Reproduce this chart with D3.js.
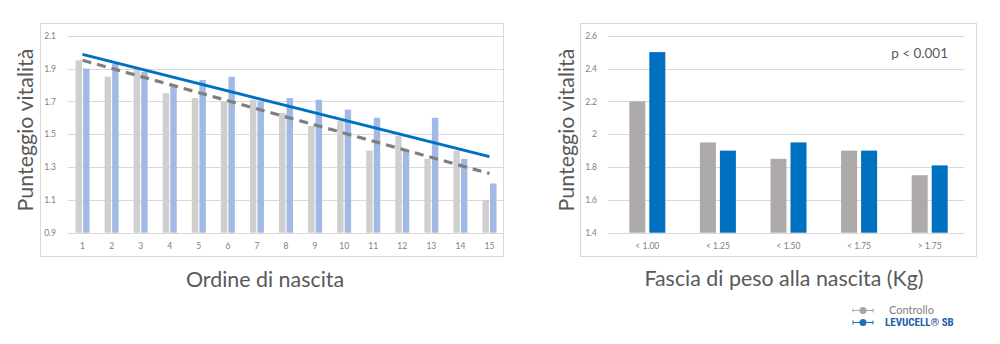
<!DOCTYPE html>
<html><head><meta charset="utf-8">
<script src="https://cdn.jsdelivr.net/npm/d3@7/dist/d3.min.js"></script>
<style>
html,body{margin:0;padding:0;background:#fff;}
svg{display:block;}
</style></head>
<body>
<svg id="chart" width="1000" height="344"></svg>
<script>
// ---- Data: left chart (birth order) ----
const orderCategories = ["1","2","3","4","5","6","7","8","9","10","11","12","13","14","15"];
const orderControl = [1.95,1.85,1.90,1.75,1.72,1.70,1.71,1.63,1.55,1.58,1.40,1.49,1.35,1.40,1.10];
const orderLevucell = [1.90,1.93,1.88,1.80,1.83,1.85,1.70,1.72,1.71,1.65,1.60,1.40,1.60,1.35,1.20];
const orderTicks = [0.9,1.1,1.3,1.5,1.7,1.9,2.1];

// ---- Data: right chart (birth weight) ----
const weightCategories = ["< 1.00","< 1.25","< 1.50","< 1.75","> 1.75"];
const weightControl = [2.20,1.95,1.85,1.90,1.75];
const weightLevucell = [2.50,1.90,1.95,1.90,1.81];
const weightTicks = [1.4,1.6,1.8,2,2.2,2.4,2.6];

const seriesNames = ["Controllo","LEVUCELL® SB"];

const svg = d3.select("#chart");
const FONT = "Lato, 'Open Sans', sans-serif";

// linear regression (trendline) from data
function linreg(ys){
  const xs = ys.map((_,i)=>i+1);
  const mx = d3.mean(xs), my = d3.mean(ys);
  let sxy=0, sxx=0;
  xs.forEach((x,i)=>{sxy+=(x-mx)*(ys[i]-my); sxx+=(x-mx)*(x-mx);});
  const b = sxy/sxx, a = my - b*mx;
  return x => a + b*x;
}

function panel(cfg){
  const g = svg.append("g");
  g.append("rect").attr("x",cfg.frame[0]).attr("y",cfg.frame[1])
    .attr("width",cfg.frame[2]).attr("height",cfg.frame[3])
    .attr("fill","none").attr("stroke","#d9d9d9").attr("stroke-width",1);

  const x0 = d3.scaleBand().domain(cfg.cats).range(cfg.xr).padding(0);
  const x1 = d3.scaleBand().domain(seriesNames).range(cfg.sub).paddingInner(cfg.subPad);
  const y = d3.scaleLinear().domain(cfg.yd).range(cfg.yr);

  g.append("g").selectAll("line").data(cfg.ticks).join("line")
    .attr("x1",cfg.gridX[0]).attr("x2",cfg.gridX[1])
    .attr("y1",d=>Math.round(y(d))+0.5).attr("y2",d=>Math.round(y(d))+0.5)
    .attr("stroke","#d9d9d9").attr("stroke-width",1);

  const ya = d3.axisLeft(y).tickValues(cfg.ticks).tickSize(0).tickPadding(0)
    .tickFormat(cfg.tickFmt);
  const yg = g.append("g").attr("transform",`translate(${cfg.yLabelX},0)`).call(ya);
  yg.select(".domain").remove();
  yg.selectAll("text").attr("fill","#808080").attr("font-size",cfg.tickSize)
    .attr("font-family",FONT);

  const xa = d3.axisBottom(x0).tickSize(0).tickPadding(0);
  const xg = g.append("g").attr("transform",`translate(0,${cfg.xLabelY})`).call(xa);
  xg.select(".domain").remove();
  xg.selectAll("text").attr("fill","#808080").attr("font-size",cfg.tickSize)
    .attr("font-family",FONT);

  const rows = cfg.cats.map((c,i)=>({c, vals:[cfg.a[i], cfg.b[i]]}));
  const grp = g.append("g").selectAll("g").data(rows).join("g")
    .attr("transform",d=>`translate(${x0(d.c)+x0.bandwidth()/2},0)`);
  grp.selectAll("rect").data(d=>d.vals.map((v,k)=>({k,v}))).join("rect")
    .attr("x",d=>x1(seriesNames[d.k]))
    .attr("width",x1.bandwidth())
    .attr("y",d=>y(d.v))
    .attr("height",d=>y(cfg.yd[0])-y(d.v))
    .attr("fill",d=>cfg.colors[d.k]);

  g.append("text").attr("transform",`translate(${cfg.yTitle[0]},${cfg.yTitle[1]}) rotate(-90)`)
    .attr("text-anchor","middle").attr("dominant-baseline","central")
    .attr("font-family",FONT).attr("font-size",cfg.titleSize).attr("fill","#595959")
    .text("Punteggio vitalità");
  g.append("text").attr("x",cfg.xTitle[0]).attr("y",cfg.xTitle[1])
    .attr("text-anchor","middle")
    .attr("font-family",FONT).attr("font-size",cfg.titleSize).attr("fill","#595959")
    .text(cfg.xTitleText);
  return {g,x0,y};
}

const L = panel({
  frame:[40.5,23.5,463,233],
  cats:orderCategories, a:orderControl, b:orderLevucell,
  xr:[68,504], sub:[-7,7], subPad:0.15,
  yd:[0.9,2.1], yr:[232.7,35.7], ticks:orderTicks,
  gridX:[68,503], tickFmt:d3.format(".1f"),
  yLabelX:56, xLabelY:243, tickSize:8.5,
  colors:["#cfcfcf","#a1b9e4"],
  yTitle:[25,130], xTitle:[265,287], titleSize:21.4, xTitleText:"Ordine di nascita"
});

const regC = linreg(orderControl), regL = linreg(orderLevucell);
const xc = c => L.x0(c) + L.x0.bandwidth()/2;
const first = orderCategories[0], last = orderCategories[orderCategories.length-1];
L.g.append("line")
  .attr("x1",xc(first)).attr("y1",L.y(regC(1)))
  .attr("x2",xc(last)).attr("y2",L.y(regC(orderCategories.length)))
  .attr("stroke","#7f7f7f").attr("stroke-width",3.2).attr("stroke-dasharray","9,6");
L.g.append("line")
  .attr("x1",xc(first)).attr("y1",L.y(regL(1)))
  .attr("x2",xc(last)).attr("y2",L.y(regL(orderCategories.length)))
  .attr("stroke","#0070c0").attr("stroke-width",3);

const R = panel({
  frame:[580.5,23.5,396,233],
  cats:weightCategories, a:weightControl, b:weightLevucell,
  xr:[612,965], sub:[-18,18], subPad:0.2,
  yd:[1.4,2.6], yr:[232.7,35.7], ticks:weightTicks,
  gridX:[608,964], tickFmt:d=>String(d),
  yLabelX:597, xLabelY:243, tickSize:8.5,
  colors:["#aeaaaa","#0070c0"],
  yTitle:[566,130], xTitle:[784,286], titleSize:21.4, xTitleText:"Fascia di peso alla nascita (Kg)"
});
R.g.append("text").attr("x",948).attr("y",58).attr("text-anchor","end")
  .attr("font-family",FONT).attr("font-size",13.5).attr("fill","#595959")
  .text("p < 0.001");

// Legend
const legendColors = ["#a6a6a6","#1f6fbf"];
const legendTextColors = ["#7f7f7f","#1f5ea8"];
const leg = svg.append("g");
seriesNames.forEach((name,i)=>{
  const yy = 310.5 + i*12;
  const lg = leg.append("g");
  lg.append("line").attr("x1",853).attr("x2",873).attr("y1",yy).attr("y2",yy)
    .attr("stroke",legendColors[i]).attr("stroke-width",1);
  [853,873].forEach(xx=>lg.append("line").attr("x1",xx).attr("x2",xx)
    .attr("y1",yy-2).attr("y2",yy+2).attr("stroke",legendColors[i]).attr("stroke-width",1));
  lg.append("circle").attr("cx",863).attr("cy",yy).attr("r",3.5).attr("fill",legendColors[i]);
  lg.append("text").attr("x", i===0 ? 889 : 885).attr("y",yy+3.8)
    .attr("font-family", i===0 ? FONT : "'Liberation Sans Narrow','Roboto Condensed',Roboto,sans-serif")
    .attr("font-weight", i===0 ? 400 : 700)
    .attr("font-size",11).attr("fill",legendTextColors[i]).text(name);
});
</script>
</body></html>
